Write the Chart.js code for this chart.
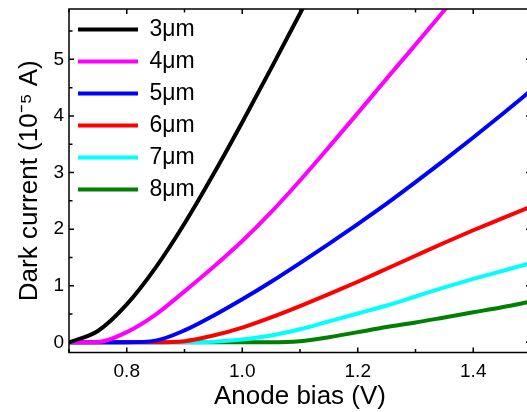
<!DOCTYPE html>
<html>
<head>
    <title>Dark current vs anode bias</title>
    <script src="https://cdn.jsdelivr.net/npm/chart.js"></script>
    <style>
        html, body { margin: 0; padding: 0; overflow: hidden; background: #fff; }
    </style>
</head>
<body>
    <canvas id="darkChart" width="531" height="412"></canvas>
    <script>
        // anode bias (V)
        var bias = [0.70, 0.75, 0.80, 0.85, 0.90, 0.95, 1.00, 1.05, 1.10, 1.15,
                    1.20, 1.25, 1.30, 1.35, 1.40, 1.45, 1.50];

        // dark current (1e-5 A) per thickness
        var cur3um = [0, 0.20, 0.67, 1.32, 2.10, 2.97, 3.89, 4.84, 5.81, 6.79,
                      null, null, null, null, null, null, null];
        var cur4um = [0, 0.005, 0.18, 0.49, 0.90, 1.33, 1.79, 2.30, 2.86, 3.45,
                      4.05, 4.66, 5.26, 5.87, 6.48, null, null];
        var cur5um = [0, 0, 0, 0.03, 0.21, 0.47, 0.76, 1.07, 1.40, 1.74,
                      2.09, 2.45, 2.83, 3.22, 3.62, 4.03, 4.45];
        var cur6um = [0, 0, 0, 0, 0.02, 0.12, 0.26, 0.44, 0.64, 0.85,
                      1.07, 1.30, 1.53, 1.76, 1.98, 2.19, 2.40];
        var cur7um = [0, 0, 0, 0, 0, 0.01, 0.05, 0.12, 0.23, 0.37,
                      0.51, 0.65, 0.81, 0.97, 1.12, 1.26, 1.40];
        var cur8um = [0, 0, 0, 0, 0, 0, 0, 0, 0.02, 0.09,
                      0.18, 0.27, 0.35, 0.44, 0.53, 0.62, 0.72];

        var seriesLabels = ['3\u03bcm', '4\u03bcm', '5\u03bcm', '6\u03bcm', '7\u03bcm', '8\u03bcm'];
        var seriesColors = ['#000000', '#ff00ff', '#0000ff', '#ff0000', '#00ffff', '#008000'];
        var seriesValues = [cur3um, cur4um, cur5um, cur6um, cur7um, cur8um];

        var xTicks = [0.8, 1.0, 1.2, 1.4];
        var xMinor = [0.7, 0.9, 1.1, 1.3, 1.5];
        var yTicks = [0, 1, 2, 3, 4, 5];
        var yMinor = [0.5, 1.5, 2.5, 3.5, 4.5, 5.5];

        var FONT = "'Liberation Sans', Arial, sans-serif";

        // closed frame with inward major/minor ticks, like the origin plot
        var frameTicks = {
            id: 'frameTicks',
            afterLayout: function(chart) {
                // a vertical legend in the chart area gets top = 0, move it down to the frame
                var lg = chart.legend, h = lg.bottom - lg.top;
                lg.top = chart.chartArea.top;
                lg.bottom = lg.top + h;
            },
            afterDatasetsDraw: function(chart) {
                var ctx = chart.ctx, a = chart.chartArea;
                var sx = chart.scales.x, sy = chart.scales.y;
                ctx.save();
                ctx.strokeStyle = '#000';
                ctx.lineWidth = 1.5;
                ctx.strokeRect(a.left, a.top, a.right - a.left, a.bottom - a.top);
                ctx.beginPath();
                function xt(v, len) {
                    var p = sx.getPixelForValue(v);
                    ctx.moveTo(p, a.bottom); ctx.lineTo(p, a.bottom - len);
                    ctx.moveTo(p, a.top); ctx.lineTo(p, a.top + len);
                }
                function yt(v, len) {
                    var p = sy.getPixelForValue(v);
                    ctx.moveTo(a.left, p); ctx.lineTo(a.left + len, p);
                    ctx.moveTo(a.right, p); ctx.lineTo(a.right - len, p);
                }
                xTicks.forEach(function(v) { xt(v, 5); });
                xMinor.forEach(function(v) { xt(v, 3.5); });
                yTicks.forEach(function(v) { yt(v, 5); });
                yMinor.forEach(function(v) { yt(v, 3.5); });
                ctx.stroke();
                ctx.restore();
            }
        };

        var datasets = seriesValues.map(function(vals, i) {
            return {
                label: seriesLabels[i],
                data: bias.map(function(b, j) { return {x: b, y: vals[j]}; }),
                borderColor: seriesColors[i],
                backgroundColor: seriesColors[i],
                borderWidth: 4,
                pointRadius: 0,
                cubicInterpolationMode: 'monotone',
                spanGaps: false,
                clip: 0
            };
        });

        var ctx = document.getElementById('darkChart').getContext('2d');
        var darkChart = new Chart(ctx, {
            type: 'line',
            data: { datasets: datasets },
            plugins: [frameTicks],
            options: {
                responsive: false,
                animation: false,
                layout: { padding: { top: 9, right: 0, bottom: 0, left: 0 } },
                plugins: {
                    tooltip: { enabled: false },
                    legend: {
                        position: 'chartArea',
                        align: 'start',
                        labels: {
                            usePointStyle: true,
                            pointStyle: 'line',
                            pointStyleWidth: 60,
                            padding: 9,
                            color: '#000',
                            font: { family: FONT, size: 23 }
                        }
                    }
                },
                scales: {
                    x: {
                        type: 'linear',
                        min: 0.7,
                        max: 1.5,
                        afterBuildTicks: function(s) {
                            s.ticks = xTicks.map(function(v) { return {value: v}; });
                        },
                        afterFit: function(s) {
                            s.height = 59.5;
                            s.paddingLeft = 0;
                            s.paddingRight = 0;
                        },
                        grid: { display: false, drawTicks: false },
                        border: { display: false },
                        ticks: {
                            color: '#000',
                            padding: 8,
                            font: { family: FONT, size: 19 },
                            callback: function(v) { return v.toFixed(1); }
                        },
                        title: {
                            display: true,
                            text: 'Anode bias (V)',
                            color: '#000',
                            font: { family: FONT, size: 26 },
                            padding: { top: 0, bottom: 0 }
                        }
                    },
                    y: {
                        type: 'linear',
                        min: -0.18,
                        max: 5.89,
                        afterBuildTicks: function(s) {
                            s.ticks = yTicks.map(function(v) { return {value: v}; });
                        },
                        afterFit: function(s) {
                            s.width = 69;
                            s.paddingTop = 0;
                            s.paddingBottom = 0;
                        },
                        grid: { display: false, drawTicks: false },
                        border: { display: false },
                        ticks: {
                            color: '#000',
                            padding: 5,
                            font: { family: FONT, size: 19 },
                            callback: function(v) { return String(v); }
                        },
                        title: {
                            display: true,
                            text: 'Dark current (10\u207b\u2075 A)',
                            color: '#000',
                            font: { family: FONT, size: 26 },
                            padding: { top: 14, bottom: 0 }
                        }
                    }
                }
            }
        });
    </script>
</body>
</html>
